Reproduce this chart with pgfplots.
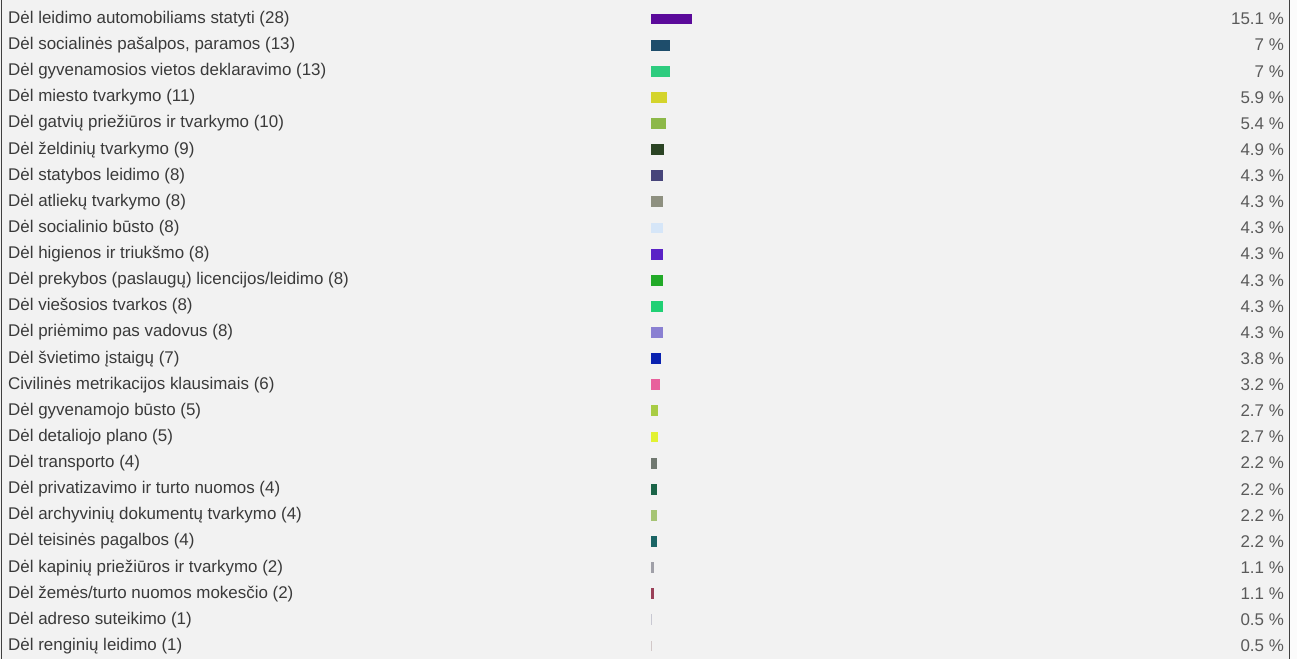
\documentclass[border=0pt]{standalone}
\usepackage{pgfplots}
\pgfplotsset{compat=1.18}
\usepackage{fontspec}
\setmainfont{Liberation Sans}

\definecolor{bgcol}{HTML}{F2F2F2}
\definecolor{txtcol}{HTML}{3A3A3A}
\definecolor{pctcol}{HTML}{5A5A5A}

\pgfplotscreateplotcyclelist{rowcolors}{
  {fill={rgb,255:red,91;green,10;blue,154}},
  {fill={rgb,255:red,30;green,77;blue,107}},
  {fill={rgb,255:red,46;green,204;blue,127}},
  {fill={rgb,255:red,212;green,212;blue,44}},
  {fill={rgb,255:red,140;green,184;blue,72}},
  {fill={rgb,255:red,43;green,68;blue,36}},
  {fill={rgb,255:red,71;green,69;blue,122}},
  {fill={rgb,255:red,142;green,144;blue,128}},
  {fill={rgb,255:red,214;green,230;blue,248}},
  {fill={rgb,255:red,90;green,34;blue,198}},
  {fill={rgb,255:red,34;green,170;blue,40}},
  {fill={rgb,255:red,32;green,208;blue,116}},
  {fill={rgb,255:red,138;green,128;blue,210}},
  {fill={rgb,255:red,10;green,34;blue,176}},
  {fill={rgb,255:red,232;green,96;blue,156}},
  {fill={rgb,255:red,168;green,204;blue,68}},
  {fill={rgb,255:red,226;green,242;blue,50}},
  {fill={rgb,255:red,112;green,120;blue,112}},
  {fill={rgb,255:red,26;green,100;blue,72}},
  {fill={rgb,255:red,166;green,196;blue,116}},
  {fill={rgb,255:red,26;green,100;blue,100}},
  {fill={rgb,255:red,160;green,160;blue,168}},
  {fill={rgb,255:red,154;green,64;blue,88}},
  {fill={rgb,255:red,200;green,200;blue,210}},
  {fill={rgb,255:red,210;green,200;blue,200}},
}

\begin{document}
\begin{tikzpicture}
\fill[bgcol] (0,0) rectangle (1297bp,659bp);
\fill[white!97!gray] (1290bp,0) rectangle (1297bp,659bp);

\begin{axis}[
  at={(0,0)}, anchor=south west,
  scale only axis, width=1297bp, height=659bp,
  xmin=-442.86, xmax=439.46,
  ymin=0.2727, ymax=25.498,
  y dir=reverse,
  axis line style={draw=none},
  major tick length=0pt,
  xtick=\empty,
  ytick={1,...,25},
  yticklabels={
    Dėl leidimo automobiliams statyti (28),
    {Dėl socialinės pašalpos, paramos (13)},
    Dėl gyvenamosios vietos deklaravimo (13),
    Dėl miesto tvarkymo (11),
    Dėl gatvių priežiūros ir tvarkymo (10),
    Dėl želdinių tvarkymo (9),
    Dėl statybos leidimo (8),
    Dėl atliekų tvarkymo (8),
    Dėl socialinio būsto (8),
    Dėl higienos ir triukšmo (8),
    Dėl prekybos (paslaugų) licencijos/leidimo (8),
    Dėl viešosios tvarkos (8),
    Dėl priėmimo pas vadovus (8),
    Dėl švietimo įstaigų (7),
    Civilinės metrikacijos klausimais (6),
    Dėl gyvenamojo būsto (5),
    Dėl detaliojo plano (5),
    Dėl transporto (4),
    Dėl privatizavimo ir turto nuomos (4),
    Dėl archyvinių dokumentų tvarkymo (4),
    Dėl teisinės pagalbos (4),
    Dėl kapinių priežiūros ir tvarkymo (2),
    Dėl žemės/turto nuomos mokesčio (2),
    Dėl adreso suteikimo (1),
    Dėl renginių leidimo (1)
  },
  yticklabel style={anchor=west, inner sep=0pt, xshift=8bp,
    font=\fontsize{17}{20}\selectfont, text=txtcol},
  xbar, bar shift=0pt, bar width=0.42,
  cycle list name=rowcolors,
  every axis plot/.append style={draw=none},
]
\addplot coordinates {(28,1)};
\addplot coordinates {(13,2)};
\addplot coordinates {(13,3)};
\addplot coordinates {(11,4)};
\addplot coordinates {(10,5)};
\addplot coordinates {(9,6)};
\addplot coordinates {(8,7)};
\addplot coordinates {(8,8)};
\addplot coordinates {(8,9)};
\addplot coordinates {(8,10)};
\addplot coordinates {(8,11)};
\addplot coordinates {(8,12)};
\addplot coordinates {(8,13)};
\addplot coordinates {(7,14)};
\addplot coordinates {(6,15)};
\addplot coordinates {(5,16)};
\addplot coordinates {(5,17)};
\addplot coordinates {(4,18)};
\addplot coordinates {(4,19)};
\addplot coordinates {(4,20)};
\addplot coordinates {(4,21)};
\addplot coordinates {(2,22)};
\addplot coordinates {(2,23)};
\addplot coordinates {(1,24)};
\addplot coordinates {(1,25)};
\end{axis}

\begin{axis}[
  at={(0,0)}, anchor=south west,
  scale only axis, width=1297bp, height=659bp,
  xmin=-442.86, xmax=439.46,
  ymin=0.2727, ymax=25.498,
  y dir=reverse,
  axis line style={draw=none},
  major tick length=0pt,
  xtick=\empty,
  ytick={1,...,25},
  yticklabel pos=right,
  yticklabels={15.1 \%, 7 \%, 7 \%, 5.9 \%, 5.4 \%, 4.9 \%, 4.3 \%, 4.3 \%,
    4.3 \%, 4.3 \%, 4.3 \%, 4.3 \%, 4.3 \%, 3.8 \%, 3.2 \%, 2.7 \%, 2.7 \%,
    2.2 \%, 2.2 \%, 2.2 \%, 2.2 \%, 1.1 \%, 1.1 \%, 0.5 \%, 0.5 \%},
  yticklabel style={anchor=east, inner sep=0pt, xshift=-13bp,
    font=\fontsize{17}{20}\selectfont, text=pctcol},
]
\addplot[draw=none] coordinates {(0,1)};
\end{axis}

\draw[black!75, line width=1.2bp] (1.5bp,0) -- (1.5bp,659bp);
\draw[black!75, line width=1.2bp] (1289.5bp,0) -- (1289.5bp,659bp);
\pgfresetboundingbox
\path (0,0) rectangle (1297bp,659bp);
\end{tikzpicture}
\end{document}
